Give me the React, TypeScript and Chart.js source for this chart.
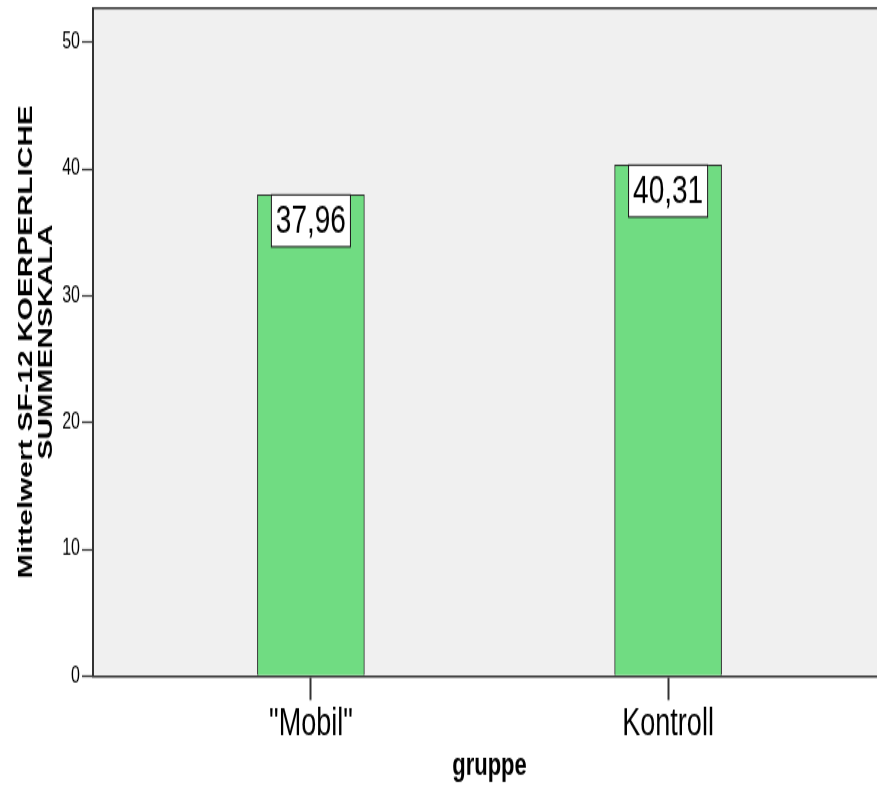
import React, { useEffect, useRef } from "react";
import { Chart, registerables } from "chart.js";

Chart.register(...registerables);

const categories = ['"Mobil"', "Kontroll"];
const categoryPositions = [0, 1];
const meanValues = [37.96, 40.31];
const yTickValues = [0, 10, 20, 30, 40, 50];
const yAxisMax = 52.7;
const yTitleLines = ["Mittelwert SF-12 KOERPERLICHE", "SUMMENSKALA"];
const xTitle = "gruppe";

// The original picture is stretched vertically; draw on a shorter canvas and stretch it with CSS.
const CANVAS_W = 886;
const CANVAS_H = 556;
const VIEW_W = 877;
const VIEW_H = 789;
const SY = VIEW_H / CANVAS_H;

const FONT = "'Liberation Sans', Arial, sans-serif";

const bgPlugin = {
  id: "bgPlugin",
  beforeDraw(chart: any) {
    const { ctx, chartArea } = chart;
    ctx.save();
    ctx.fillStyle = "#f0f0f0";
    ctx.fillRect(chartArea.left, chartArea.top, chartArea.right - chartArea.left, chartArea.bottom - chartArea.top);
    ctx.restore();
  },
  afterDraw(chart: any) {
    const { ctx, chartArea } = chart;
    ctx.save();
    ctx.strokeStyle = "#333";
    ctx.lineWidth = 1.5;
    ctx.beginPath();
    ctx.moveTo(chartArea.left, chartArea.top);
    ctx.lineTo(chartArea.right, chartArea.top);
    ctx.lineTo(chartArea.right, chartArea.bottom);
    ctx.stroke();
    ctx.restore();
  },
};

const labelPlugin = {
  id: "labelPlugin",
  afterDatasetsDraw(chart: any) {
    const { ctx } = chart;
    const meta = chart.getDatasetMeta(0);
    ctx.save();
    ctx.font = `28px ${FONT}`;
    meta.data.forEach((bar: any, i: number) => {
      const txt = meanValues[i].toFixed(2).replace(".", ",");
      const w = ctx.measureText(txt).width + 10;
      const h = 36.6;
      const x = bar.x - w / 2;
      const y = bar.y;
      ctx.fillStyle = "#ffffff";
      ctx.fillRect(x, y, w, h);
      ctx.strokeStyle = "#111";
      ctx.lineWidth = 1;
      ctx.strokeRect(x + 0.5, y, w - 1, h);
      ctx.fillStyle = "#000";
      ctx.textAlign = "center";
      ctx.textBaseline = "middle";
      ctx.fillText(txt, bar.x, y + h / 2 + 1);
    });
    ctx.restore();
  },
};

export default function App() {
  const ref = useRef<HTMLCanvasElement | null>(null);

  useEffect(() => {
    if (!ref.current) return;
    const chart = new Chart(ref.current, {
      type: "bar",
      data: {
        datasets: [
          {
            data: meanValues.map((v, i) => ({ x: categoryPositions[i], y: v })),
            backgroundColor: "#70dc82",
            borderColor: "#2b2b2b",
            borderWidth: 1,
            barThickness: 107,
          },
        ],
      },
      options: {
        responsive: false,
        animation: false,
        devicePixelRatio: 1,
        layout: { padding: { top: 8 / SY, left: 0, right: 0, bottom: 0 } },
        plugins: { legend: { display: false }, tooltip: { enabled: false } },
        scales: {
          x: {
            type: "linear",
            min: -0.61,
            max: 1.61,
            offset: false,
            afterBuildTicks: (scale: any) => {
              scale.ticks = categoryPositions.map((v) => ({ value: v }));
            },
            afterFit: (scale: any) => {
              scale.height = CANVAS_H - 676 / SY;
              scale.paddingLeft = 0;
              scale.paddingRight = 0;
            },
            grid: {
              offset: false,
              drawOnChartArea: false,
              drawTicks: true,
              tickLength: 17,
              tickColor: "#333",
              tickWidth: 2,
            },
            border: { display: true, color: "#333", width: 1.5 },
            ticks: {
              autoSkip: false,
              maxRotation: 0,
              padding: 1,
              color: "#000",
              font: { family: FONT, size: 27 },
              callback: (v: any) => categories[categoryPositions.indexOf(Number(v))] ?? "",
            },
            title: {
              display: true,
              text: xTitle,
              color: "#000",
              font: { family: FONT, size: 22, weight: "bold" },
              padding: { top: 0, bottom: 2.4 },
            },
          },
          y: {
            type: "linear",
            min: 0,
            max: yAxisMax,
            afterBuildTicks: (scale: any) => {
              scale.ticks = yTickValues.map((v) => ({ value: v }));
            },
            afterFit: (scale: any) => {
              scale.width = 93;
              scale.paddingTop = 0;
              scale.paddingBottom = 0;
            },
            grid: {
              drawOnChartArea: false,
              drawTicks: true,
              tickLength: 11,
              tickColor: "#333",
              tickWidth: 1.3,
            },
            border: { display: true, color: "#333", width: 2 },
            ticks: {
              includeBounds: false,
              padding: 2,
              color: "#000",
              font: { family: FONT, size: 16 },
            },
            title: {
              display: true,
              text: yTitleLines,
              color: "#000",
              font: { family: FONT, size: 21, weight: "bold", lineHeight: "20.5px" },
              padding: { top: 15.5, bottom: 0 },
            },
          },
        },
      } as any,
      plugins: [bgPlugin, labelPlugin],
    });
    return () => chart.destroy();
  }, []);

  return (
    <div
      style={{
        position: "absolute",
        left: 0,
        top: 0,
        width: VIEW_W,
        height: VIEW_H,
        overflow: "hidden",
        background: "#fff",
      }}
    >
      <canvas
        ref={ref}
        width={CANVAS_W}
        height={CANVAS_H}
        style={{ width: CANVAS_W + "px", height: VIEW_H + "px", display: "block" }}
      />
    </div>
  );
}
